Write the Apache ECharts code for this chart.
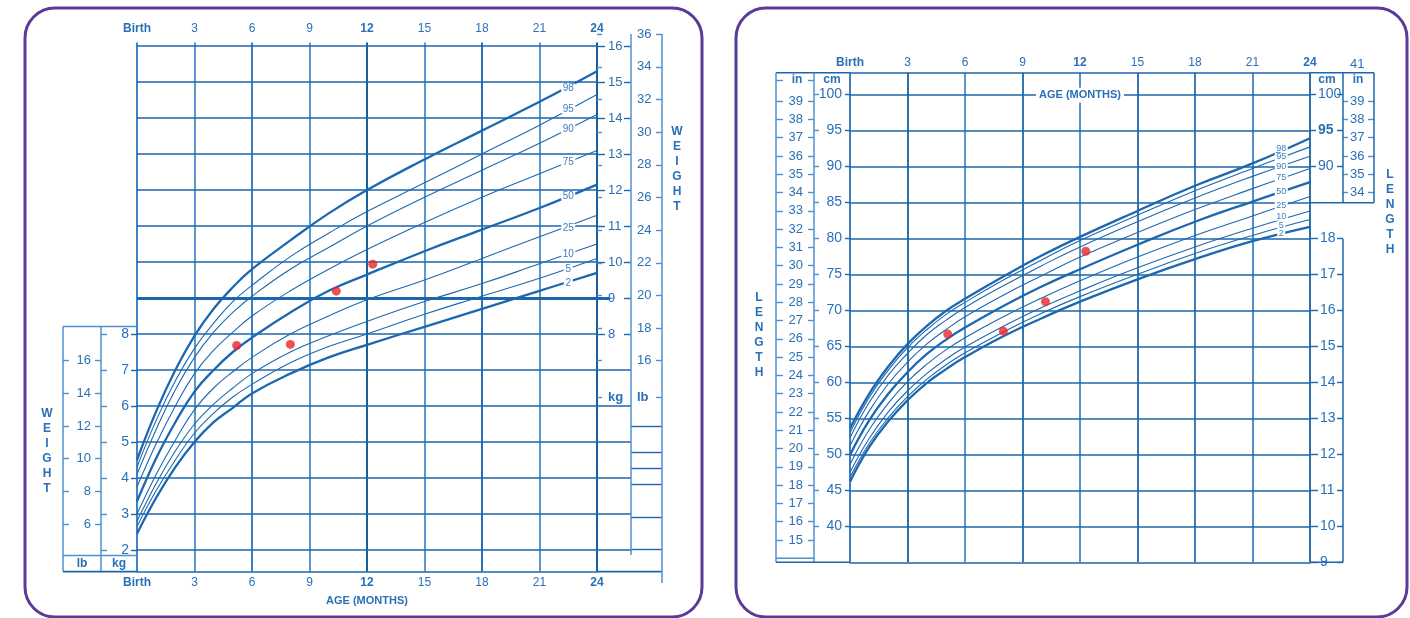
<!DOCTYPE html>
<html><head><meta charset="utf-8">
<script src="https://cdn.jsdelivr.net/npm/echarts@6/dist/echarts.min.js"></script>
<style>html,body{margin:0;padding:0;background:#fff}#c{width:1410px;height:618px}</style>
</head><body><div id="c"></div>
<script>
// ================= DATA =================
const months = [0, 1, 2, 3, 4, 5, 6, 8, 10, 12, 15, 18, 21, 24];
const ageTicks = [0, 3, 6, 9, 12, 15, 18, 21, 24];
const percentiles = ['98', '95', '90', '75', '50', '25', '10', '5', '2'];
const boldPercentiles = ['98', '50', '2'];

// weight-for-age (kg)
const weight98 = [4.5, 5.85, 7.0, 7.95, 8.7, 9.3, 9.8, 10.6, 11.35, 12.0, 12.85, 13.65, 14.45, 15.3];
const weight95 = [4.3, 5.6, 6.7, 7.6, 8.3, 8.9, 9.35, 10.15, 10.8, 11.4, 12.2, 13.0, 13.8, 14.65];
const weight90 = [4.1, 5.35, 6.45, 7.35, 8.05, 8.6, 9.05, 9.8, 10.4, 11.0, 11.8, 12.55, 13.3, 14.1];
const weight75 = [3.75, 4.95, 6.0, 6.9, 7.55, 8.05, 8.5, 9.2, 9.8, 10.35, 11.1, 11.8, 12.45, 13.1];
const weight50 = [3.35, 4.55, 5.55, 6.4, 7.0, 7.5, 7.9, 8.6, 9.2, 9.65, 10.3, 10.9, 11.5, 12.15];
const weight25 = [3.0, 4.1, 5.05, 5.9, 6.5, 6.95, 7.35, 8.0, 8.5, 8.95, 9.5, 10.1, 10.7, 11.3];
const weight10 = [2.8, 3.85, 4.75, 5.5, 6.05, 6.5, 6.9, 7.5, 7.95, 8.35, 8.9, 9.4, 9.95, 10.5];
const weight5  = [2.65, 3.65, 4.5, 5.25, 5.8, 6.25, 6.6, 7.2, 7.65, 8.0, 8.55, 9.05, 9.55, 10.1];
const weight2  = [2.45, 3.45, 4.3, 5.0, 5.55, 5.95, 6.35, 6.9, 7.35, 7.7, 8.2, 8.7, 9.2, 9.7];

// length-for-age (cm)
const length98 = [53.6, 58.4, 62.2, 65.3, 67.8, 69.9, 71.6, 74.7, 77.6, 80.2, 83.8, 87.3, 90.4, 93.9];
const length95 = [53.0, 57.9, 61.7, 64.8, 67.3, 69.4, 71.1, 74.2, 77.0, 79.7, 83.2, 86.6, 89.7, 92.7];
const length90 = [52.3, 57.2, 61.0, 64.0, 66.6, 68.6, 70.4, 73.4, 76.2, 78.8, 82.3, 85.6, 88.6, 91.4];
const length75 = [51.2, 56.0, 59.8, 62.8, 65.3, 67.3, 69.1, 72.1, 74.8, 77.4, 80.8, 84.0, 86.9, 89.7];
const length50 = [49.9, 54.7, 58.4, 61.4, 63.9, 65.9, 67.6, 70.6, 73.3, 75.7, 79.1, 82.3, 85.1, 87.8];
const length25 = [48.6, 53.4, 57.1, 60.1, 62.5, 64.5, 66.2, 69.1, 71.7, 74.1, 77.4, 80.4, 83.1, 85.8];
const length10 = [47.5, 52.2, 55.9, 58.8, 61.2, 63.2, 64.9, 67.8, 70.4, 72.7, 75.9, 78.8, 81.4, 83.8];
const length5  = [46.8, 51.5, 55.1, 58.0, 60.4, 62.4, 64.1, 67.0, 69.6, 71.9, 75.0, 77.9, 80.4, 82.6];
const length2  = [46.2, 51.0, 54.6, 57.5, 59.9, 61.8, 63.5, 66.4, 68.9, 71.2, 74.3, 77.1, 79.6, 81.6];

// percentile label anchors (age, value)
const labelAge = 22.5;
const weightLabelPos = [14.83, 14.25, 13.68, 12.78, 11.83, 10.94, 10.22, 9.8, 9.42];
const lengthLabelPos = [92.5, 91.3, 90.0, 88.5, 86.5, 84.6, 83.0, 81.8, 80.6];

// child measurements
const weightAge = [5.2, 8.0, 10.4, 12.3];
const childWeight = [7.68, 7.71, 9.19, 9.94];
const lengthAge = [5.1, 8.0, 10.2, 12.3];
const childLength = [66.7, 67.1, 71.2, 78.2];

// tick labels
const kgGridLines = [2, 3, 4, 5, 6, 7, 8, 10, 11, 12, 13, 14, 15, 16];
const kgHeavyLine = [9];
const kgLeftTicks = [2, 3, 4, 5, 6, 7, 8];
const kgRightTicks = [8, 9, 10, 11, 12, 13, 14, 15, 16];
const kgColumnLines = [2, 3, 4, 5, 6, 7];
const lbLeftTicks = [6, 8, 10, 12, 14, 16];
const lbRightTicks = [16, 18, 20, 22, 24, 26, 28, 30, 32, 34, 36];
const lbColumnLines = [12, 10.4, 9.4, 8.45, 6.4, 4.47];
const unitHeaderKg = 6.25;
const cmGridLines = [40, 45, 50, 55, 60, 65, 70, 75, 80, 85, 90, 95, 100];
const inLeftTicks = [15, 16, 17, 18, 19, 20, 21, 22, 23, 24, 25, 26, 27, 28, 29, 30, 31, 32, 33, 34, 35, 36, 37, 38, 39];
const cmRightTicks = [90, 95, 100];
const inRightTicks = [34, 35, 36, 37, 38, 39];
const inTopLabel = 41;
const lowerRightTicks = [9, 10, 11, 12, 13, 14, 15, 16, 17, 18];
const headerCm = 102;

// ================= STYLE =================
const FONT = '"Liberation Sans", Arial, Helvetica, sans-serif';
const C = {
  grid: '#1d66ad', curve: '#1c68b0', text: '#2b70b6', light: '#5e9bd4',
  pct: '#3b7dc2', purple: '#5b3b98', red: '#e8262c', box: '#4f90cf'
};
const LB = 2.20462, IN = 2.54;
const toKg = lb => lb / LB;
const toCm = i => i * IN;
const near = (a, b) => Math.abs(a - b) < 0.02;

const chart = echarts.init(document.getElementById('c'), null, { width: 1410, height: 618 });

function yAx(o) {
  return {
    type: 'value', gridIndex: o.g, min: o.min, max: o.max,
    position: o.pos || 'left', offset: o.off || 0, silent: true,
    axisLine: { show: false }, splitLine: { show: false },
    axisTick: {
      show: !!o.ticks, customValues: o.ticks, inside: !!o.tin, length: o.tlen || 6,
      lineStyle: { color: o.tc || C.grid, width: o.tw || 1.4 }
    },
    axisLabel: {
      show: !!o.labels, customValues: o.labels, inside: !!o.lin,
      margin: o.margin == null ? 8 : o.margin, color: C.text, fontSize: o.fs || 13,
      fontFamily: FONT, formatter: o.fmt || (v => '' + v),
      rich: { b: { fontWeight: 'bold', color: C.text, fontSize: o.fs || 13, fontFamily: FONT } }
    }
  };
}

const ageFmt = v => (v === 0 ? '{b|Birth}' : (v === 12 || v === 24) ? '{b|' + v + '}' : '' + v);
const ageRich = { b: { fontWeight: 'bold', fontSize: 12, color: C.text, fontFamily: FONT } };
const ageLabel = (margin) => ({ margin, fontSize: 12, color: C.text, fontFamily: FONT, formatter: ageFmt, rich: ageRich, customValues: ageTicks });

// grid ranges
const W = { min: 1.4, max: 16.1 };
const WC = { min: 1.4, max: 16.5 };
const L = { min: 35, max: 103 };
const LD = { min: 35, max: 105.5 };

const xAxis = [
  { gridIndex: 0, type: 'value', min: 0, max: 24, interval: 3, position: 'bottom',
    axisLine: { show: true, lineStyle: { color: C.grid, width: 1.6 } }, axisTick: { show: false },
    axisLabel: ageLabel(5),
    splitLine: { show: true, lineStyle: { color: ['#3f84c6', '#5a98d2', '#3a80c4', '#5a98d2', '#17609f', '#5a98d2', '#2a70b5', '#5a98d2', '#17609f'], width: 2 } },
    name: 'AGE (MONTHS)', nameLocation: 'middle', nameGap: 24,
    nameTextStyle: { color: C.text, fontWeight: 'bold', fontSize: 11, fontFamily: FONT } },
  { gridIndex: 0, type: 'value', min: 0, max: 24, interval: 3, position: 'top',
    axisLine: { show: false }, axisTick: { show: false }, axisLabel: ageLabel(8), splitLine: { show: false } },
  { gridIndex: 1, type: 'value', min: 0, max: 1, show: false },
  { gridIndex: 2, type: 'value', min: 0, max: 24, interval: 3, position: 'top',
    axisLine: { show: true, lineStyle: { color: C.grid, width: 1.6 } }, axisTick: { show: false },
    axisLabel: ageLabel(4),
    splitLine: { show: true, lineStyle: { color: ['#2a70b5', '#17609f', '#4a8cca', '#1d66ad', '#3f84c6', '#1d66ad', '#2a70b5', '#3f84c6', '#17609f'], width: 1.8 } } },
  { gridIndex: 2, type: 'value', min: 0, max: 24, interval: 3, position: 'bottom',
    axisLine: { show: true, lineStyle: { color: C.grid, width: 1.6 } }, axisTick: { show: false },
    axisLabel: { show: false }, splitLine: { show: false } },
  { gridIndex: 3, type: 'value', min: 0, max: 1, show: false }
];

const kgFmt = v => near(v, unitHeaderKg) ? '{b|kg}' : '' + Math.round(v);
const lbFmt = v => near(v, unitHeaderKg) ? '{b|lb}' : '' + Math.round(v * LB);
const inFmt = v => '' + Math.round(v / IN);
const cmRFmt = v => v === 95 ? '{b|95}' : '' + v;

const yAxis = [
  // ---- grid 0 : weight ----
  yAx({ g: 0, ...W }),                                                                 // 0 main
  yAx({ g: 0, ...W, ticks: kgLeftTicks, tlen: 6, labels: kgLeftTicks, margin: 8, fs: 14 }), // 1
  yAx({ g: 0, ...W, off: 36, ticks: kgLeftTicks, tin: true, tlen: 6, tc: C.box }),     // 2
  yAx({ g: 0, ...W, off: 36, ticks: lbLeftTicks.map(toKg), tlen: 6, tc: C.box,
        labels: lbLeftTicks.map(toKg), margin: 10, fs: 13, fmt: v => '' + Math.round(v * LB) }), // 3
  yAx({ g: 0, ...W, off: 74, ticks: lbLeftTicks.map(toKg), tin: true, tlen: 6, tc: C.box }), // 4
  yAx({ g: 0, ...W, pos: 'right', ticks: kgRightTicks, tlen: 8,
        labels: kgRightTicks.concat([unitHeaderKg]), margin: 11, fs: 13, fmt: kgFmt }), // 5
  yAx({ g: 0, ...W, pos: 'right', off: 34, ticks: kgRightTicks, tin: true, tlen: 7 }), // 6
  yAx({ g: 0, ...W, pos: 'right', ticks: kgColumnLines, tlen: 34, tw: 1.5 }),          // 7
  yAx({ g: 0, ...W, pos: 'right', ticks: kgHeavyLine, tlen: 13, tw: 3 }),              // 8
  yAx({ g: 0, ...W, ticks: kgGridLines, tin: true, tlen: 460, tw: 1.5 }),              // 9 grid lines
  yAx({ g: 0, ...W, ticks: kgHeavyLine, tin: true, tlen: 460, tw: 3 }),                // 10 heavy 9 kg
  // ---- grid 1 : lb column right ----
  yAx({ g: 1, ...WC, pos: 'right', ticks: lbRightTicks.map(toKg).concat([unitHeaderKg]), tlen: 5, tc: C.box,
        labels: lbRightTicks.map(toKg).concat([unitHeaderKg]), margin: 6, fs: 13, fmt: lbFmt }), // 11
  yAx({ g: 1, ...WC, pos: 'right', off: 31, ticks: lbRightTicks.map(toKg).concat([unitHeaderKg]), tin: true, tlen: 6, tc: C.box }), // 12
  yAx({ g: 1, ...WC, pos: 'right', ticks: lbColumnLines.map(toKg), tlen: 31, tw: 1.4 }), // 13
  // ---- grid 2 : length ----
  yAx({ g: 2, ...L }),                                                                  // 14 main
  yAx({ g: 2, ...L, ticks: cmGridLines, tlen: 5, labels: cmGridLines, margin: 8, fs: 14 }), // 15
  yAx({ g: 2, ...L, off: 36, ticks: cmGridLines, tin: true, tlen: 5, tc: C.box }),      // 16
  yAx({ g: 2, ...L, off: 36, ticks: inLeftTicks.map(toCm).concat([headerCm]), tlen: 6, tc: C.box,
        labels: inLeftTicks.map(toCm), margin: 11, fs: 13, fmt: inFmt }),               // 17
  yAx({ g: 2, ...L, off: 74, ticks: inLeftTicks.map(toCm).concat([headerCm]), tin: true, tlen: 7, tc: C.box }), // 18
  yAx({ g: 2, ...L, ticks: cmGridLines, tin: true, tlen: 460, tw: 1.5 }),              // 19 grid lines
  // ---- grid 3 : right columns ----
  yAx({ g: 3, ...LD, ticks: cmRightTicks, tin: true, tlen: 6,
        labels: cmRightTicks, lin: true, margin: 8, fs: 14, fmt: cmRFmt }),             // 20
  yAx({ g: 3, ...LD, pos: 'right', ticks: cmRightTicks, tin: true, tlen: 6 }),          // 21
  yAx({ g: 3, ...LD, pos: 'right', ticks: inRightTicks.map(toCm), tlen: 5, tc: C.box,
        labels: inRightTicks.map(toCm).concat([toCm(inTopLabel)]), margin: 7, fs: 13, fmt: inFmt }), // 22
  yAx({ g: 3, ...LD, pos: 'right', off: 31, ticks: inRightTicks.map(toCm), tin: true, tlen: 6, tc: C.box }), // 23
  yAx({ g: 3, min: LD.min / 5 + 2, max: LD.max / 5 + 2, ticks: lowerRightTicks, tin: true, tlen: 8,
        labels: lowerRightTicks, lin: true, margin: 10, fs: 14 }),                      // 24
  yAx({ g: 3, min: LD.min / 5 + 2, max: LD.max / 5 + 2, pos: 'right', ticks: lowerRightTicks, tin: true, tlen: 6 }) // 25
];

const weightSets = [weight98, weight95, weight90, weight75, weight50, weight25, weight10, weight5, weight2];
const lengthSets = [length98, length95, length90, length75, length50, length25, length10, length5, length2];

function curveSeries(sets, labelPos, xi, yi, fs) {
  return percentiles.map((p, i) => ({
    type: 'line', xAxisIndex: xi, yAxisIndex: yi, z: 3, silent: true, animation: false,
    data: months.map((m, j) => [m, sets[i][j]]),
    smooth: 0.45, symbol: 'none',
    lineStyle: { color: C.curve, width: boldPercentiles.includes(p) ? 2.3 : 1.1 },
    markPoint: {
      silent: true, animation: false, symbol: 'rect',
      symbolSize: [p.length > 1 ? fs + 4 : fs - 1, fs - 1],
      itemStyle: { color: '#fff' },
      label: { show: true, position: 'inside', formatter: '{b}', color: C.pct, fontSize: fs, fontFamily: FONT },
      data: [{ name: p, coord: [labelAge, labelPos[i]] }]
    }
  }));
}

const series = [
  ...curveSeries(weightSets, weightLabelPos, 0, 0, 10),
  ...curveSeries(lengthSets, lengthLabelPos, 3, 14, 9),
  { type: 'scatter', xAxisIndex: 0, yAxisIndex: 0, z: 6, silent: true, animation: false,
    symbolSize: 9, itemStyle: { color: C.red }, data: weightAge.map((a, i) => [a, childWeight[i]]) },
  { type: 'scatter', xAxisIndex: 3, yAxisIndex: 14, z: 6, silent: true, animation: false,
    symbolSize: 9, itemStyle: { color: C.red }, data: lengthAge.map((a, i) => [a, childLength[i]]) }
];

// frames (decoration only)
const ln = (x1, y1, x2, y2, color, w) => ({ type: 'line', silent: true, z: 1,
  shape: { x1, y1, x2, y2 }, style: { stroke: color || C.box, lineWidth: w || 1.5 } });
const txt = (x, y, text, size, extra) => ({ type: 'text', silent: true, z: 10, x, y,
  style: Object.assign({ text, fill: C.text, font: 'bold ' + (size || 12) + 'px ' + FONT,
    align: 'center', verticalAlign: 'middle' }, extra || {}) });

const graphic = [
  { type: 'rect', silent: true, z: 0, shape: { x: 25, y: 8, width: 677, height: 609, r: 30 },
    style: { fill: 'none', stroke: C.purple, lineWidth: 3 } },
  { type: 'rect', silent: true, z: 0, shape: { x: 736, y: 8, width: 671, height: 609, r: 30 },
    style: { fill: 'none', stroke: C.purple, lineWidth: 3 } },
  // left weight box
  ln(63, 326.5, 137, 326.5), ln(63, 326.5, 63, 571.6), ln(101, 326.5, 101, 571.6), ln(63, 555.5, 137, 555.5),
  ln(63, 571.6, 137, 571.6, C.grid, 1.6), ln(597, 571.6, 662, 571.6, C.grid, 1.6),
  // right weight columns
  ln(631, 34, 631, 555), ln(662, 34, 662, 583),
  // length left box
  ln(776, 72.7, 850, 72.7, C.grid, 1.6), ln(776, 72.7, 776, 562.3), ln(814, 72.7, 814, 562.3),
  ln(776, 562.3, 850, 562.3, C.grid, 1.6), ln(776, 558.3, 814, 558.3),
  // length right boxes
  ln(1310, 72.7, 1374, 72.7, C.grid, 1.6), ln(1343, 72.7, 1343, 202.7, C.grid, 1.5),
  ln(1374, 72.7, 1374, 202.7, C.grid, 1.5), ln(1310, 202.7, 1374, 202.7, C.grid, 1.5),
  ln(1343, 238.7, 1343, 562.3, C.grid, 1.5), ln(1310, 562.3, 1343, 562.3, C.grid, 1.5),
  // texts
  txt(47, 451, 'W\nE\nI\nG\nH\nT', 12, { lineHeight: 15 }),
  txt(677, 169, 'W\nE\nI\nG\nH\nT', 12, { lineHeight: 15 }),
  txt(759, 335, 'L\nE\nN\nG\nT\nH', 12, { lineHeight: 15 }),
  txt(1390, 212, 'L\nE\nN\nG\nT\nH', 12, { lineHeight: 15 }),
  txt(82, 563.5, 'lb', 12), txt(119, 563.5, 'kg', 12),
  txt(797, 80, 'in', 12), txt(832, 80, 'cm', 12),
  txt(1327, 80, 'cm', 12), txt(1358, 80, 'in', 12)
];

chart.setOption({
  animation: false,
  backgroundColor: '#fff',
  grid: [
    { left: 137, top: 42.4, width: 460, height: 529.2 },
    { left: 597, top: 28, width: 34, height: 543.6 },
    { left: 850, top: 72.7, width: 460, height: 489.6 },
    { left: 1310, top: 54.7, width: 33, height: 507.6 }
  ],
  xAxis, yAxis, series, graphic
});

// "AGE (MONTHS)" label sitting on the 100 cm line at 12 months
const p = chart.convertToPixel({ xAxisIndex: 3, yAxisIndex: 14 }, [12, 100]);
graphic.push(txt(p[0], p[1] + 1, 'AGE (MONTHS)', 11, { backgroundColor: '#fff', padding: [2, 3] }));
chart.setOption({ graphic });
</script>
</body></html>
